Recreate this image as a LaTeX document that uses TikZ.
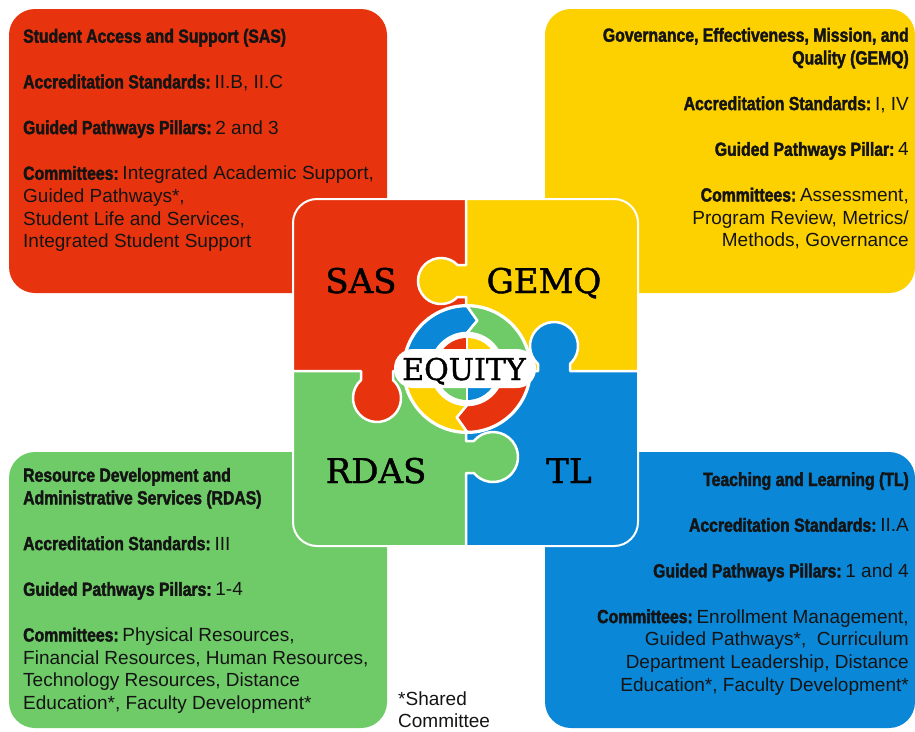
\documentclass[tikz,border=0pt]{standalone}
\usepackage{fontspec}
\setmainfont{Liberation Sans}
\newfontfamily\condsans{Liberation Sans Bold}[FakeStretch=0.83, FakeBold=2]
\newfontfamily\slabserif{DejaVu Serif}[FakeBold=1.3]

\definecolor{cred}{HTML}{E8340E}
\definecolor{cyellow}{HTML}{FDD100}
\definecolor{cgreen}{HTML}{6FCB68}
\definecolor{cblue}{HTML}{0A87D7}
\definecolor{ink}{HTML}{141414}

% bold condensed heading, and bold field name followed by its value
\newcommand\lbl[1]{{\condsans #1}}
\newcommand\field[1]{{\condsans #1}\kern-1.5pt\ }

\tikzset{
  card/.style={rounded corners=26pt},
  cardtext/.style={inner sep=0pt, text=ink, font=\fontsize{19}{22.7}\selectfont},
  piecename/.style={inner sep=0pt, anchor=base, text=black,
                    font=\slabserif\fontsize{34}{34}\selectfont},
  seam/.style={white, line width=2.5pt, line join=round},
  ringseg/.style={draw=white, line width=2.5pt, line join=round},
}

\begin{document}
\begin{tikzpicture}[x=1pt, y=-1pt]
\useasboundingbox (0,0) rectangle (915,731);

% four area cards
\fill[cred, card]    (9,9)     rectangle (387,293);
\fill[cyellow, card] (545,9)   rectangle (915,293);
\fill[cgreen, card]  (9,452)   rectangle (387,728);
\fill[cblue, card]   (545,452) rectangle (915,728);

% jigsaw square
\begin{scope}
  \clip[rounded corners=24pt] (293,199) rectangle (638,546);
  \fill[cred]    (293,199) rectangle (466,371);
  \fill[cyellow] (466,199) rectangle (638,371);
  \fill[cgreen]  (293,371) rectangle (466,546);
  \fill[cblue]   (466,371) rectangle (638,546);
  % knobs
  \fill[cyellow] (441,281) circle[radius=23];
  \fill[cyellow] (441,265) rectangle (466,297);
  \fill[cred]    (377,398) circle[radius=24];
  \fill[cred]    (361,371) rectangle (393,398);
  \fill[cgreen]  (493,457) circle[radius=25];
  \fill[cgreen]  (466,441) rectangle (493,473);
  \fill[cblue]   (554,346) circle[radius=24];
  \fill[cblue]   (538,346) rectangle (570,371);
  % seams between the pieces
  \draw[seam] (466,199) -- (466,265) -- (457.52,265)
     arc[start angle=-44.08, end angle=-315.92, radius=23]
     -- (466,297) -- (466,441) -- (473.79,441)
     arc[start angle=219.79, end angle=500.21, radius=25]
     -- (466,473) -- (466,546);
  \draw[seam] (293,371) -- (361,371) -- (361,380.11)
     arc[start angle=228.19, end angle=-48.19, radius=24]
     -- (393,371) -- (538,371) -- (538,363.89)
     arc[start angle=131.81, end angle=408.19, radius=24]
     -- (570,371) -- (638,371);
\end{scope}
\draw[white, line width=2pt, rounded corners=24pt] (293,199) rectangle (638,546);

% equity ring
\coordinate (eq) at (467,369);
\fill[white] (eq) circle[radius=65];
\filldraw[ringseg, fill=cblue] ([shift={(180:63)}]eq)
   arc[start angle=180, end angle=270, radius=63]
   -- ([shift={(282:49.5)}]eq) -- ([shift={(270:36)}]eq)
   arc[start angle=270, end angle=180, radius=36] -- cycle;
\filldraw[ringseg, fill=cgreen] ([shift={(270:63)}]eq)
   arc[start angle=270, end angle=360, radius=63]
   -- ([shift={(0:36)}]eq)
   arc[start angle=360, end angle=270, radius=36]
   -- ([shift={(282:49.5)}]eq) -- cycle;
\filldraw[ringseg, fill=cred] ([shift={(0:63)}]eq)
   arc[start angle=0, end angle=90, radius=63]
   -- ([shift={(102:49.5)}]eq) -- ([shift={(90:36)}]eq)
   arc[start angle=90, end angle=0, radius=36] -- cycle;
\filldraw[ringseg, fill=cyellow] ([shift={(90:63)}]eq)
   arc[start angle=90, end angle=180, radius=63]
   -- ([shift={(180:36)}]eq)
   arc[start angle=180, end angle=90, radius=36]
   -- ([shift={(102:49.5)}]eq) -- cycle;
% inner disc
\fill[cred]    (eq) -- ([shift={(180:31)}]eq) arc[start angle=180, end angle=270, radius=31] -- cycle;
\fill[cyellow] (eq) -- ([shift={(270:31)}]eq) arc[start angle=270, end angle=360, radius=31] -- cycle;
\fill[cblue]   (eq) -- ([shift={(0:31)}]eq)   arc[start angle=0, end angle=90, radius=31] -- cycle;
\fill[cgreen]  (eq) -- ([shift={(90:31)}]eq)  arc[start angle=90, end angle=180, radius=31] -- cycle;
\draw[white, line width=2.5pt] ([shift={(270:33)}]eq) -- ([shift={(90:33)}]eq);
\draw[white, line width=2.5pt] ([shift={(180:33)}]eq) -- ([shift={(0:33)}]eq);

\node[fill=white, rounded corners=19pt, minimum width=142pt, minimum height=39pt,
      inner sep=0pt] (eqpill) at (465,368.5) {};
\node[inner sep=0pt, anchor=base, font=\slabserif\fontsize{30}{30}\selectfont]
      (equity) at (464,380) {EQUITY};

% piece names
\node[piecename] (sas)  at (361,293) {SAS};
\node[piecename] (gemq) at (544,293) {GEMQ};
\node[piecename] (rdas) at (376,483) {RDAS};
\node[piecename] (tl)   at (569,483) {TL};

% card texts
\node[cardtext, anchor=base west] (sastext) at (23,42.7) {\parbox[t]{370pt}{\raggedright
  \lbl{Student Access and Support (SAS)}\\[23pt]
  \field{Accreditation Standards:}II.B, II.C\\[23pt]
  \field{Guided Pathways Pillars:}2 and 3\\[23pt]
  \field{Committees:}Integrated Academic Support,\\
  Guided Pathways*,\\
  Student Life and Services,\\
  Integrated Student Support}};

\node[cardtext, anchor=base east] (gemqtext) at (909,41.7) {\parbox[t]{360pt}{\raggedleft
  \lbl{Governance, Effectiveness, Mission, and}\\
  \lbl{Quality (GEMQ)}\\[23pt]
  \field{Accreditation Standards:}I, IV\\[23pt]
  \field{Guided Pathways Pillar:}4\\[23pt]
  \field{Committees:}Assessment,\\
  Program Review, Metrics/\\
  Methods, Governance}};

\node[cardtext, anchor=base west] (rdastext) at (23,481.7) {\parbox[t]{370pt}{\raggedright
  \lbl{Resource Development and}\\
  \lbl{Administrative Services (RDAS)}\\[23pt]
  \field{Accreditation Standards:}III\\[23pt]
  \field{Guided Pathways Pillars:}1-4\\[23pt]
  \field{Committees:}Physical Resources,\\
  Financial Resources, Human Resources,\\
  Technology Resources, Distance\\
  Education*, Faculty Development*}};

\node[cardtext, anchor=base east] (tltext) at (909,486) {\parbox[t]{360pt}{\raggedleft
  \lbl{Teaching and Learning (TL)}\\[23pt]
  \field{Accreditation Standards:}II.A\\[23pt]
  \field{Guided Pathways Pillars:}1 and 4\\[23pt]
  \field{Committees:}Enrollment Management,\\
  Guided Pathways*,\ \ Curriculum\\
  Department Leadership, Distance\\
  Education*, Faculty Development*}};

\node[cardtext, anchor=base west] (shared) at (398,705) {\parbox[t]{120pt}{\raggedright
  *Shared\\Committee}};
\end{tikzpicture}
\end{document}
